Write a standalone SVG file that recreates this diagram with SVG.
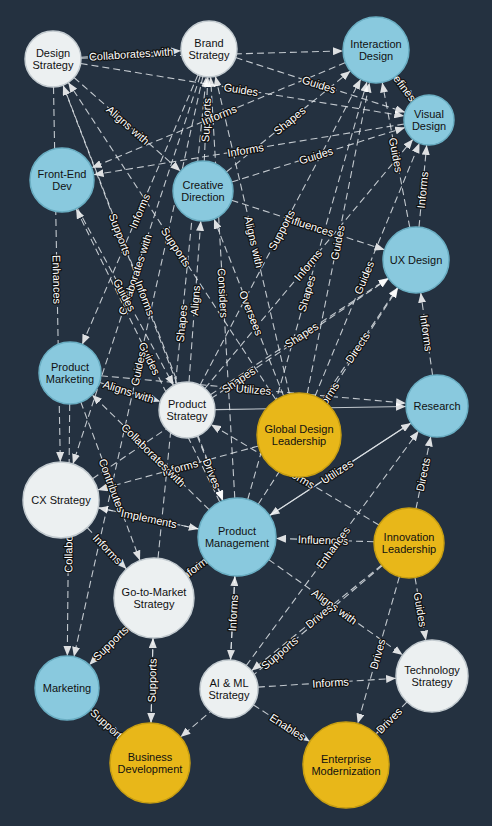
<svg xmlns="http://www.w3.org/2000/svg" width="492" height="826" viewBox="0 0 492 826">
<defs>
<style>
.e{stroke:#dfe4e8;stroke-width:1.1;stroke-dasharray:7 4;fill:none;marker-end:url(#a);opacity:.85}
.s{stroke-dasharray:none}
.l{font-family:"Liberation Sans",Arial,sans-serif;font-size:11px;fill:#fff;stroke:#111;stroke-width:2.4px;paint-order:stroke;stroke-linejoin:round;text-anchor:middle;dominant-baseline:central}
.n text{font-family:"Liberation Sans",Arial,sans-serif;font-size:11px;fill:#111;text-anchor:middle}
.lt{fill:#ecf0f1;stroke:#c3cbd0;stroke-width:1.5}
.bl{fill:#89c9de;stroke:#6aaec3;stroke-width:1.5}
.yl{fill:#e8b719;stroke:#c79e12;stroke-width:1.5}
</style>
<marker id="a" viewBox="0 0 10 8" refX="10" refY="4" markerWidth="10" markerHeight="8" markerUnits="userSpaceOnUse" orient="auto"><path d="M0,0L10,4L0,8z" fill="#fff"/></marker>
</defs>
<rect width="492" height="826" fill="#243140"/>
<g id="connectors">
<line class="e" x1="80.9" y1="57.2" x2="181.1" y2="50.8"/>
<line class="e" x1="80.6" y1="63.5" x2="404.3" y2="116"/>
<line class="e" x1="235.6" y1="57.6" x2="405.2" y2="112.3"/>
<line class="e" x1="395.9" y1="76.3" x2="413.9" y2="100.1"/>
<line class="e" x1="226.3" y1="172" x2="350.4" y2="70.9"/>
<line class="e" x1="404.3" y1="124" x2="93.6" y2="174.8"/>
<line class="e" x1="231.6" y1="182" x2="405.1" y2="127.5"/>
<line class="e" x1="409.8" y1="227.6" x2="382.2" y2="82.4"/>
<line class="e" x1="419" y1="227.1" x2="426.7" y2="144.9"/>
<line class="e" x1="231.5" y1="200.2" x2="384.6" y2="249.8"/>
<line class="e" x1="200" y1="385.2" x2="360.7" y2="79.2"/>
<line class="e" x1="307.2" y1="393.8" x2="369.5" y2="82.4"/>
<line class="e" x1="204.9" y1="388.5" x2="413" y2="139.2"/>
<line class="e" x1="289.5" y1="394.1" x2="215.4" y2="76.3"/>
<line class="e" x1="283.6" y1="395.9" x2="214" y2="218.9"/>
<line class="e" x1="234.8" y1="498.1" x2="210.6" y2="76.9"/>
<line class="e" x1="189" y1="382.1" x2="200.8" y2="220.9"/>
<line class="e" x1="204.3" y1="161" x2="207.8" y2="77"/>
<line class="e" x1="345.5" y1="62.6" x2="91.6" y2="167.8"/>
<line class="e" x1="177" y1="383.8" x2="63" y2="85.2"/>
<line class="e" x1="198" y1="74.7" x2="82.2" y2="344.5"/>
<line class="e" x1="276" y1="399.8" x2="68.3" y2="82.4"/>
<line class="e" x1="74" y1="77.5" x2="180.5" y2="171.2"/>
<line class="e" x1="200.3" y1="75.6" x2="72.9" y2="463.9"/>
<line class="e" x1="63.1" y1="85.1" x2="223" y2="500.6"/>
<line class="e" x1="77.3" y1="208.1" x2="173.6" y2="385.4"/>
<line class="e" x1="219.8" y1="502" x2="76.1" y2="208.7"/>
<line class="e" x1="202.9" y1="76.3" x2="73.9" y2="656.8"/>
<line class="e" x1="158" y1="558.2" x2="206.2" y2="76.9"/>
<line class="e" x1="99.6" y1="382.4" x2="160.3" y2="401.6"/>
<line class="e" x1="92.5" y1="478.7" x2="388.7" y2="278.5"/>
<line class="e" x1="100.9" y1="375.8" x2="406.1" y2="403.2"/>
<line class="e s" x1="269.6" y1="515.6" x2="411.1" y2="423"/>
<line class="e s" x1="411.1" y1="423" x2="269.6" y2="515.6"/>
<line class="e" x1="379" y1="525" x2="211" y2="424.4"/>
<line class="e" x1="258.5" y1="446" x2="97.7" y2="490"/>
<line class="e" x1="209.2" y1="509.7" x2="92.1" y2="394.7"/>
<line class="e" x1="197.3" y1="436" x2="222.7" y2="500.7"/>
<line class="e" x1="80.8" y1="402" x2="140" y2="560.5"/>
<line class="e" x1="198.8" y1="529" x2="98.2" y2="507.8"/>
<line class="e" x1="98.2" y1="507.8" x2="198.8" y2="529"/>
<line class="e" x1="87.2" y1="527.6" x2="126.5" y2="569"/>
<line class="e" x1="69.7" y1="404" x2="67.3" y2="656"/>
<line class="e" x1="374" y1="541.8" x2="276" y2="538.4"/>
<line class="e" x1="416" y1="508.7" x2="430.8" y2="436.4"/>
<line class="e" x1="246.2" y1="665.6" x2="418.6" y2="431"/>
<line class="e" x1="234.9" y1="576" x2="230.5" y2="660"/>
<line class="e" x1="230.5" y1="660" x2="234.9" y2="576"/>
<line class="e" x1="268.7" y1="559.6" x2="402.7" y2="655.1"/>
<line class="e" x1="381.8" y1="565" x2="251.5" y2="670.7"/>
<line class="e" x1="382.3" y1="565.6" x2="180.5" y2="737.1"/>
<line class="e" x1="257.9" y1="687.1" x2="396.1" y2="678.3"/>
<line class="e" x1="399.4" y1="576.7" x2="357.7" y2="723.6"/>
<line class="e" x1="415" y1="577.5" x2="425.9" y2="640.5"/>
<line class="e" x1="407" y1="701.9" x2="375.9" y2="734.1"/>
<line class="e" x1="253.3" y1="704.8" x2="309.9" y2="741.6"/>
<line class="e" x1="90.7" y1="709.4" x2="120.3" y2="736.2"/>
<line class="e" x1="126.2" y1="626.8" x2="89.2" y2="665"/>
<line class="e" x1="153" y1="638" x2="151" y2="723"/>
<line class="e" x1="151" y1="723" x2="153" y2="638"/>
<line class="e" x1="186.2" y1="574.3" x2="205.6" y2="560.1"/>
<line class="e" x1="81" y1="58.2" x2="343" y2="50.9"/>
<line class="e s" x1="215" y1="409.6" x2="406" y2="406.5"/>
<line class="e" x1="53.5" y1="87" x2="60.3" y2="462"/>
<line class="e" x1="315" y1="396.2" x2="419.5" y2="143.1"/>
<line class="e" x1="247.7" y1="499.5" x2="367" y2="81.7"/>
<line class="e" x1="258.2" y1="504.2" x2="398.1" y2="287.7"/>
<line class="e" x1="210.4" y1="394.7" x2="388.4" y2="278.1"/>
<line class="e" x1="322.4" y1="400.1" x2="397.7" y2="287.4"/>
<line class="e" x1="432.6" y1="375.3" x2="420.7" y2="292.7"/>
</g>
<g id="edge-labels">
<text class="l" x="131" y="54" transform="rotate(-3.7 131 54)">Collaborates with</text>
<text class="l" x="241" y="89.5" transform="rotate(9.2 241 89.5)">Guides</text>
<text class="l" x="319" y="84.5" transform="rotate(17.9 319 84.5)">Guides</text>
<text class="l" x="402.5" y="85" transform="rotate(52.9 402.5 85)">Defines</text>
<text class="l" x="289.5" y="120.5" transform="rotate(-39.2 289.5 120.5)">Shapes</text>
<text class="l" x="245.5" y="150" transform="rotate(-9.3 245.5 150)">Informs</text>
<text class="l" x="316" y="155.5" transform="rotate(-17.4 316 155.5)">Guides</text>
<text class="l" x="396" y="155" transform="rotate(79.2 396 155)">Guides</text>
<text class="l" x="422.5" y="190" transform="rotate(-84.7 422.5 190)">Informs</text>
<text class="l" x="309.5" y="225.5" transform="rotate(17.9 309.5 225.5)">Influences</text>
<text class="l" x="281.5" y="230" transform="rotate(-62.3 281.5 230)">Supports</text>
<text class="l" x="337.5" y="242.5" transform="rotate(-78.7 337.5 242.5)">Guides</text>
<text class="l" x="308" y="265" transform="rotate(-50.2 308 265)">Informs</text>
<text class="l" x="254" y="242" transform="rotate(76.9 254 242)">Aligns with</text>
<text class="l" x="251" y="313" transform="rotate(68.5 251 313)">Oversees</text>
<text class="l" x="223" y="293" transform="rotate(86.7 223 293)">Considers</text>
<text class="l" x="195" y="300.5" transform="rotate(-85.8 195 300.5)">Aligns</text>
<text class="l" x="206" y="120" transform="rotate(-87.6 206 120)">Supports</text>
<text class="l" x="219" y="115" transform="rotate(-22.5 219 115)">Informs</text>
<text class="l" x="120" y="234.5" transform="rotate(69.1 120 234.5)">Supports</text>
<text class="l" x="139.5" y="211" transform="rotate(-66.8 139.5 211)">Informs</text>
<text class="l" x="176" y="247" transform="rotate(56.8 176 247)">Supports</text>
<text class="l" x="128" y="125" transform="rotate(41.3 128 125)">Aligns with</text>
<text class="l" x="135" y="274.5" transform="rotate(-71.8 135 274.5)">Collaborates with</text>
<text class="l" x="145" y="298" transform="rotate(69 145 298)">Informs</text>
<text class="l" x="124.5" y="295" transform="rotate(61.5 124.5 295)">Guides</text>
<text class="l" x="149.5" y="358.5" transform="rotate(63.9 149.5 358.5)">Guides</text>
<text class="l" x="138" y="368.5" transform="rotate(-77.5 138 368.5)">Guides</text>
<text class="l" x="181.5" y="323.5" transform="rotate(-84.3 181.5 323.5)">Shapes</text>
<text class="l" x="128.5" y="391.5" transform="rotate(17.5 128.5 391.5)">Aligns with</text>
<text class="l" x="238.5" y="380" transform="rotate(-34.1 238.5 380)">Shapes</text>
<text class="l" x="253.5" y="389.5" transform="rotate(5.1 253.5 389.5)">Utilizes</text>
<text class="l" x="337" y="471.5" transform="rotate(-33.2 337 471.5)">Utilizes</text>
<text class="l" x="298" y="476.5" transform="rotate(30.9 298 476.5)">Informs</text>
<text class="l" x="180" y="467.5" transform="rotate(-15.3 180 467.5)">Informs</text>
<text class="l" x="153.5" y="455" transform="rotate(44.5 153.5 455)">Collaborates with</text>
<text class="l" x="212" y="473.5" transform="rotate(68.5 212 473.5)">Drives</text>
<text class="l" x="112" y="485.5" transform="rotate(69.5 112 485.5)">Contributes</text>
<text class="l" x="149" y="518.5" transform="rotate(11.9 149 518.5)">Implements</text>
<text class="l" x="107.5" y="549" transform="rotate(46.5 107.5 549)">Informs</text>
<text class="l" x="68.5" y="530.5" transform="rotate(-89.5 68.5 530.5)">Collaborates with</text>
<text class="l" x="323" y="540" transform="rotate(2 323 540)">Influences</text>
<text class="l" x="423" y="474.5" transform="rotate(-78.4 423 474.5)">Directs</text>
<text class="l" x="333" y="547.5" transform="rotate(-53.7 333 547.5)">Enhances</text>
<text class="l" x="233" y="613" transform="rotate(-87 233 613)">Informs</text>
<text class="l" x="334.5" y="606.5" transform="rotate(35.5 334.5 606.5)">Aligns with</text>
<text class="l" x="319" y="616" transform="rotate(-39.1 319 616)">Drives</text>
<text class="l" x="279.5" y="653" transform="rotate(-40.3 279.5 653)">Supports</text>
<text class="l" x="330.5" y="682.5" transform="rotate(-3.7 330.5 682.5)">Informs</text>
<text class="l" x="377.5" y="654" transform="rotate(-74.2 377.5 654)">Drives</text>
<text class="l" x="420.5" y="609.5" transform="rotate(80.2 420.5 609.5)">Guides</text>
<text class="l" x="389" y="720.5" transform="rotate(-46 389 720.5)">Drives</text>
<text class="l" x="287.5" y="727" transform="rotate(33 287.5 727)">Enables</text>
<text class="l" x="108.5" y="725.5" transform="rotate(42.1 108.5 725.5)">Supports</text>
<text class="l" x="110.5" y="643" transform="rotate(-44 110.5 643)">Supports</text>
<text class="l" x="152" y="680.5" transform="rotate(-88.6 152 680.5)">Supports</text>
<text class="l" x="195.5" y="567.5" transform="rotate(-36.3 195.5 567.5)">Informs</text>
<text class="l" x="57" y="279.5" transform="rotate(89 57 279.5)">Enhances</text>
<text class="l" x="364" y="277.5" transform="rotate(-67.6 364 277.5)">Guides</text>
<text class="l" x="306.5" y="293.5" transform="rotate(-74.1 306.5 293.5)">Shapes</text>
<text class="l" x="326.5" y="398.5" transform="rotate(-57.1 326.5 398.5)">Informs</text>
<text class="l" x="301.5" y="335" transform="rotate(-33.2 301.5 335)">Shapes</text>
<text class="l" x="357.5" y="347.5" transform="rotate(-56.2 357.5 347.5)">Directs</text>
<text class="l" x="426.5" y="333" transform="rotate(81.8 426.5 333)">Informs</text>
</g>
<g id="node-ds" class="n"><circle class="lt" cx="53" cy="59" r="28"/><text x="53" y="57">Design</text><text x="53" y="69">Strategy</text></g>
<g id="node-bs" class="n"><circle class="lt" cx="209" cy="49" r="28"/><text x="209" y="47">Brand</text><text x="209" y="59">Strategy</text></g>
<g id="node-id" class="n"><circle class="bl" cx="376" cy="50" r="33"/><text x="376" y="48">Interaction</text><text x="376" y="60">Design</text></g>
<g id="node-vd" class="n"><circle class="bl" cx="429" cy="120" r="25"/><text x="429" y="118">Visual</text><text x="429" y="130">Design</text></g>
<g id="node-fed" class="n"><circle class="bl" cx="62" cy="180" r="32"/><text x="62" y="178">Front-End</text><text x="62" y="190">Dev</text></g>
<g id="node-cd" class="n"><circle class="bl" cx="203" cy="191" r="30"/><text x="203" y="189">Creative</text><text x="203" y="201">Direction</text></g>
<g id="node-ux" class="n"><circle class="bl" cx="416" cy="260" r="33"/><text x="416" y="264">UX Design</text></g>
<g id="node-pmk" class="n"><circle class="bl" cx="70" cy="373" r="31"/><text x="70" y="371">Product</text><text x="70" y="383">Marketing</text></g>
<g id="node-ps" class="n"><circle class="lt" cx="187" cy="410" r="28"/><text x="187" y="408">Product</text><text x="187" y="420">Strategy</text></g>
<g id="node-rs" class="n"><circle class="bl" cx="437" cy="406" r="31"/><text x="437" y="410">Research</text></g>
<g id="node-gdl" class="n"><circle class="yl" cx="299" cy="435" r="42"/><text x="299" y="433">Global Design</text><text x="299" y="445">Leadership</text></g>
<g id="node-cx" class="n"><circle class="lt" cx="61" cy="500" r="38"/><text x="61" y="504">CX Strategy</text></g>
<g id="node-pm" class="n"><circle class="bl" cx="237" cy="537" r="39"/><text x="237" y="535">Product</text><text x="237" y="547">Management</text></g>
<g id="node-il" class="n"><circle class="yl" cx="409" cy="543" r="35"/><text x="409" y="541">Innovation</text><text x="409" y="553">Leadership</text></g>
<g id="node-gtm" class="n"><circle class="lt" cx="154" cy="598" r="40"/><text x="154" y="596">Go-to-Market</text><text x="154" y="608">Strategy</text></g>
<g id="node-mk" class="n"><circle class="bl" cx="67" cy="688" r="32"/><text x="67" y="692">Marketing</text></g>
<g id="node-ai" class="n"><circle class="lt" cx="229" cy="689" r="29"/><text x="229" y="687">AI &amp; ML</text><text x="229" y="699">Strategy</text></g>
<g id="node-ts" class="n"><circle class="lt" cx="432" cy="676" r="36"/><text x="432" y="674">Technology</text><text x="432" y="686">Strategy</text></g>
<g id="node-bd" class="n"><circle class="yl" cx="150" cy="763" r="40"/><text x="150" y="761">Business</text><text x="150" y="773">Development</text></g>
<g id="node-em" class="n"><circle class="yl" cx="346" cy="765" r="43"/><text x="346" y="763">Enterprise</text><text x="346" y="775">Modernization</text></g>
</svg>
